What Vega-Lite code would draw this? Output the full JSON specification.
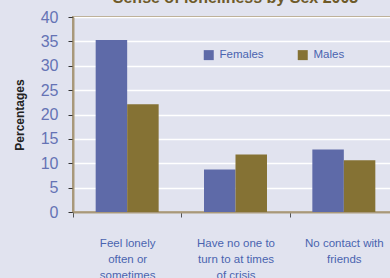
{
  "$schema": "https://vega.github.io/schema/vega-lite/v6.json",
  "autosize": "none",
  "width": 325,
  "height": 195,
  "padding": {"left": 73, "top": 17, "right": 0, "bottom": 66},
  "background": "#e1e3ef",
  "title": {
    "text": "Sense of loneliness by Sex 2003",
    "font": "Liberation Sans",
    "fontSize": 16,
    "fontWeight": "bold",
    "color": "#6e5a28",
    "anchor": "middle",
    "baseline": "alphabetic",
    "offset": 0,
    "dy": 10
  },
  "config": {
    "view": {"stroke": "#a8987a", "strokeWidth": 2, "fill": "#e1e3ef"},
    "font": "Liberation Sans"
  },
  "data": {
    "values": [
      {"category": "Feel lonely|often or|sometimes", "sex": "Females", "value": 35.3},
      {"category": "Feel lonely|often or|sometimes", "sex": "Males", "value": 22.1},
      {"category": "Have no one to|turn to at times|of crisis", "sex": "Females", "value": 8.7},
      {"category": "Have no one to|turn to at times|of crisis", "sex": "Males", "value": 11.8},
      {"category": "No contact with|friends", "sex": "Females", "value": 12.8},
      {"category": "No contact with|friends", "sex": "Males", "value": 10.6}
    ]
  },
  "mark": {"type": "bar"},
  "encoding": {
    "x": {
      "field": "category",
      "type": "nominal",
      "sort": null,
      "scale": {"paddingInner": 0, "paddingOuter": 0},
      "axis": {
        "title": null,
        "labelAngle": 0,
        "labelExpr": "split(datum.label, '|')",
        "labelFont": "Liberation Sans",
        "labelFontSize": 11.5,
        "labelColor": "#4a63b0",
        "labelLineHeight": 16,
        "labelPadding": 20,
        "labelBaseline": "top",
        "labelLimit": 200,
        "domain": true,
        "domainColor": "#a8987a",
        "domainWidth": 2,
        "ticks": true,
        "tickColor": "#555555",
        "tickSize": 5,
        "tickWidth": 1,
        "tickBand": "extent",
        "grid": false
      }
    },
    "xOffset": {
      "field": "sex",
      "type": "nominal",
      "scale": {"paddingInner": 0, "paddingOuter": 0.72}
    },
    "y": {
      "field": "value",
      "type": "quantitative",
      "scale": {"domain": [0, 40], "nice": false},
      "axis": {
        "title": "Percentages",
        "titleFont": "Liberation Sans",
        "titleFontSize": 12,
        "titleFontWeight": "bold",
        "titleColor": "#222222",
        "titlePadding": 14,
        "values": [0, 5, 10, 15, 20, 25, 30, 35, 40],
        "labelFont": "Liberation Sans",
        "labelFontSize": 16,
        "labelColor": "#6573b5",
        "labelPadding": 10,
        "tickColor": "#333333",
        "tickSize": 5,
        "domainColor": "#a8987a",
        "domainWidth": 2,
        "gridColor": "#ffffff",
        "gridWidth": 1.5,
        "gridOpacity": 1
      }
    },
    "color": {
      "field": "sex",
      "type": "nominal",
      "scale": {"domain": ["Females", "Males"], "range": ["#5e6aa8", "#857234"]},
      "legend": {
        "title": null,
        "orient": "none",
        "direction": "horizontal",
        "legendX": 130,
        "legendY": 32,
        "symbolType": "square",
        "symbolSize": 100,
        "symbolStrokeWidth": 0,
        "symbolOpacity": 1,
        "labelFont": "Liberation Sans",
        "labelFontSize": 11.5,
        "labelColor": "#4a63b0",
        "labelOffset": 5,
        "columnPadding": 33
      }
    }
  }
}
